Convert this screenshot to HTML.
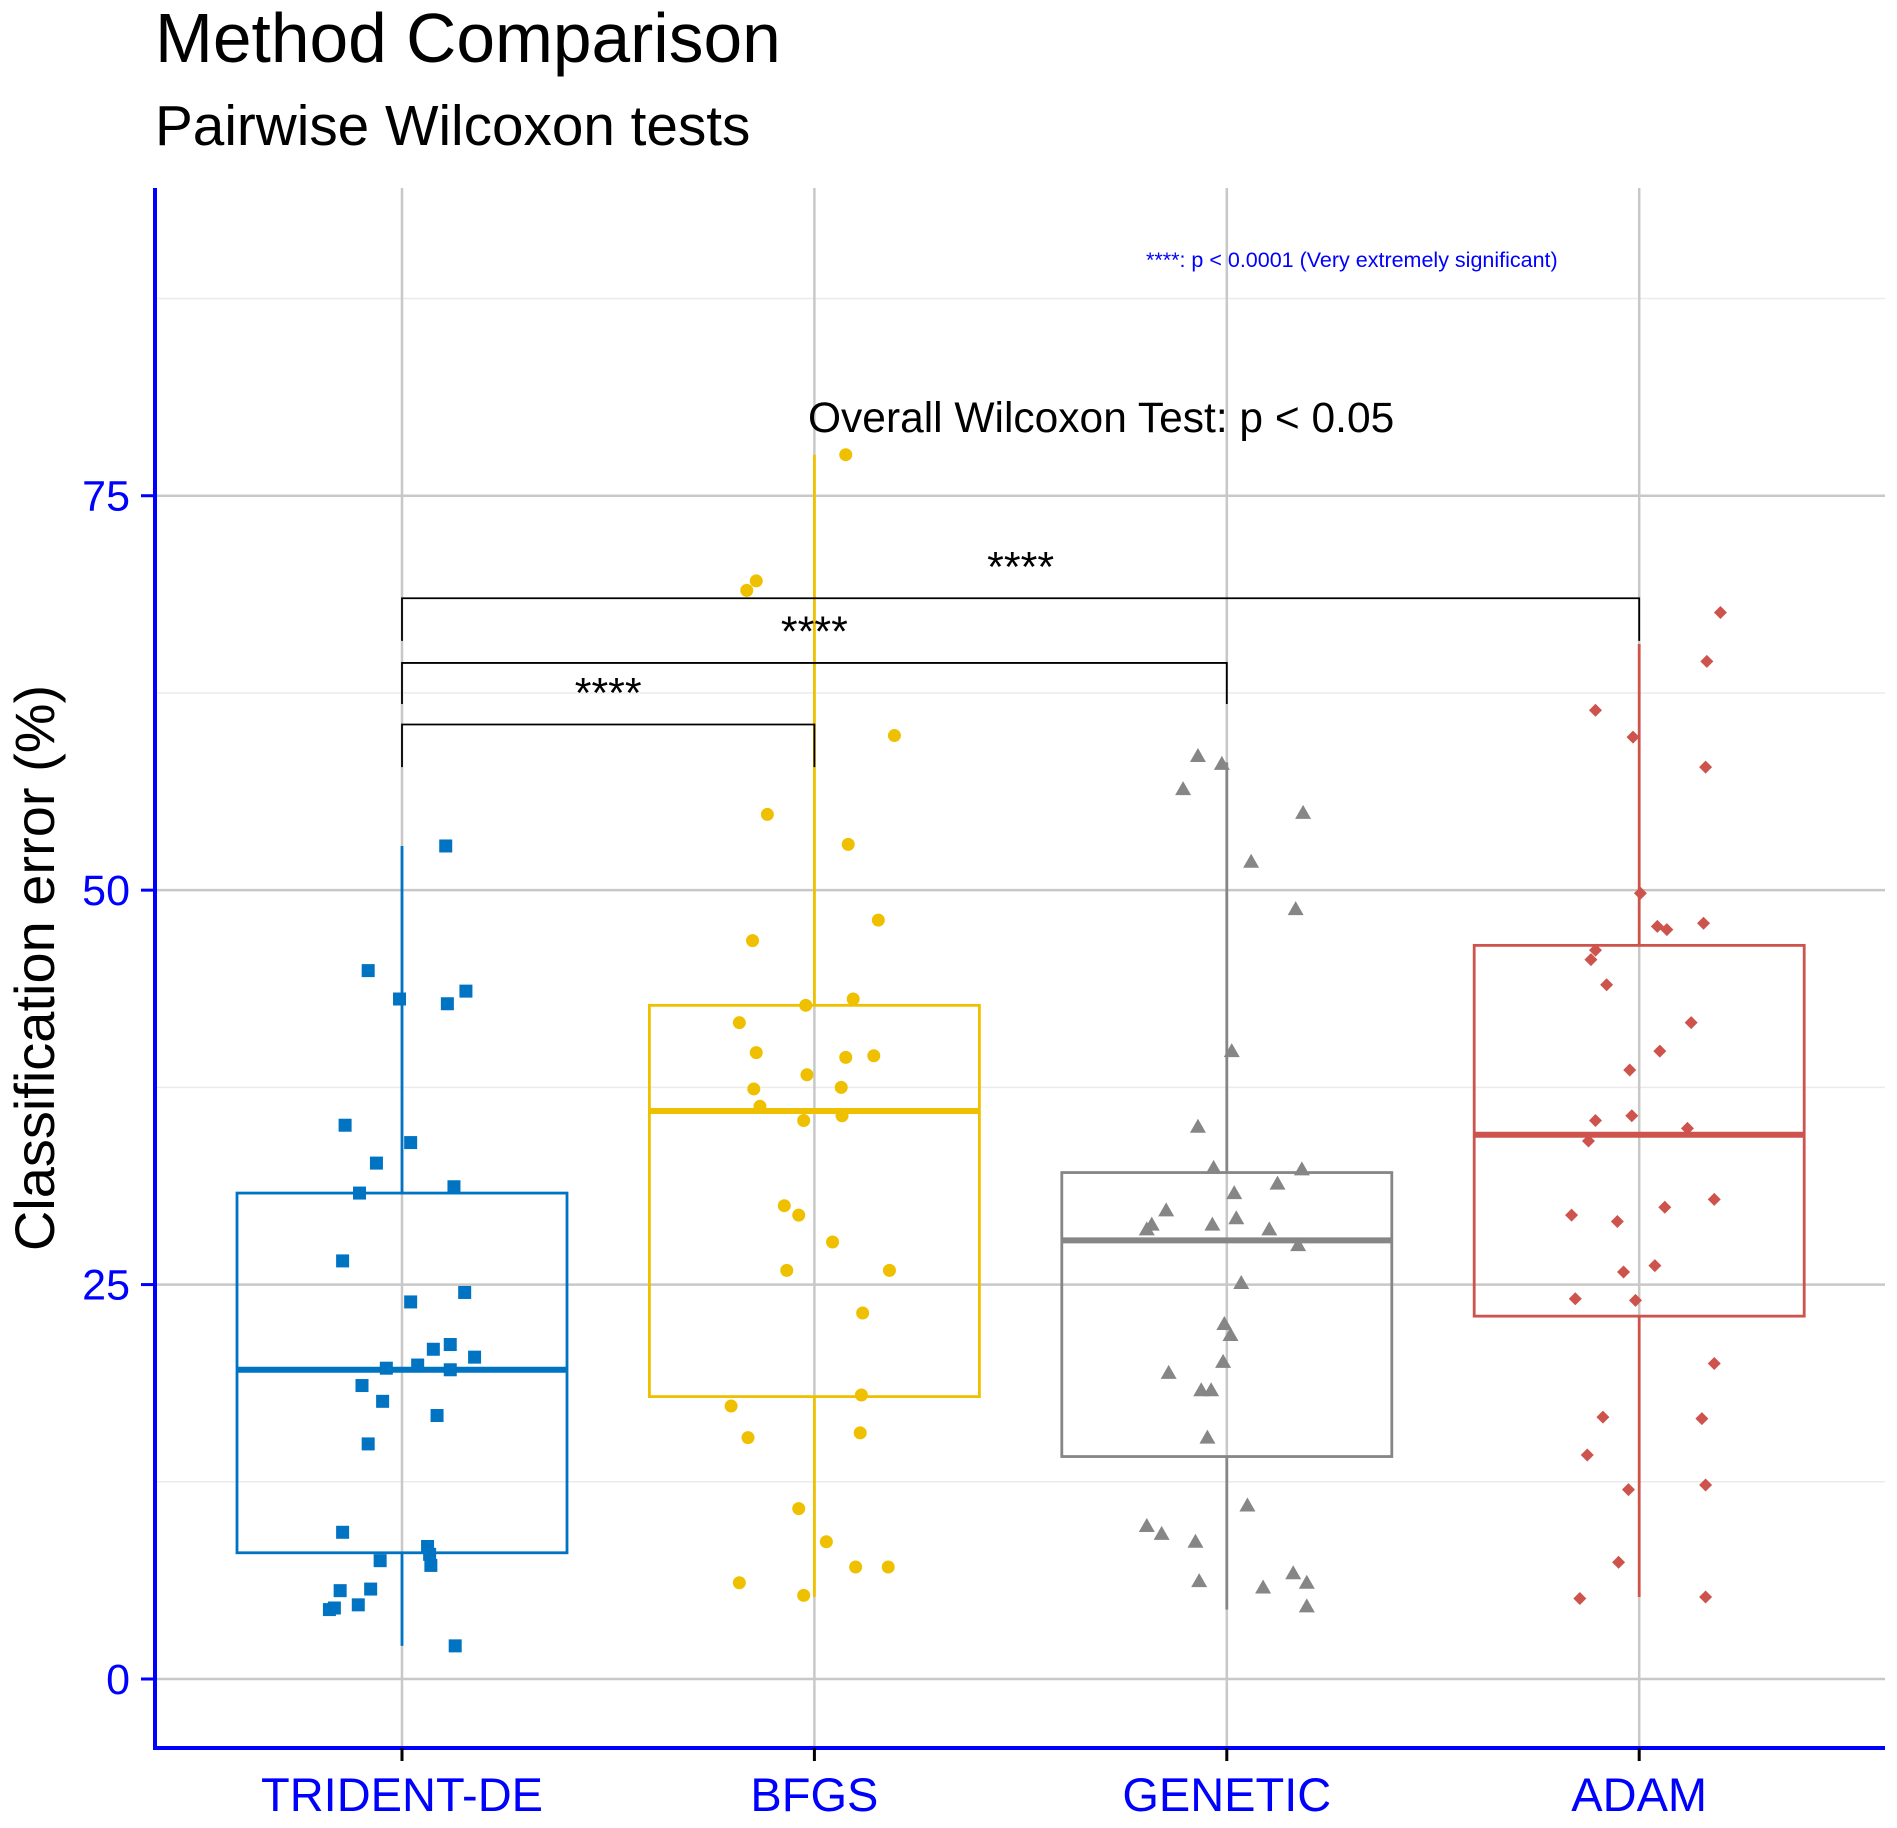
<!DOCTYPE html>
<html><head><meta charset="utf-8"><style>
body{margin:0;background:#fff}
svg{display:block;font-family:"Liberation Sans",Arial,sans-serif}
</style></head><body>
<svg id="chart" width="1897" height="1828" viewBox="0 0 1897 1828" xmlns="http://www.w3.org/2000/svg">
<text x="155" y="62" font-size="69.5" fill="#000">Method Comparison</text>
<text x="155" y="145" font-size="56.7" fill="#000">Pairwise Wilcoxon tests</text>
<g id="grid"></g>
<g id="marks"></g>
<g id="axes"></g>
<text transform="translate(54,968) rotate(-90)" text-anchor="middle" font-size="56" fill="#000">Classification error (%)</text>
<text x="808" y="432" font-size="42.5" fill="#000">Overall Wilcoxon Test: p &lt; 0.05</text>
<text x="1146" y="267" font-size="21.5" fill="#0000ff">****: p &lt; 0.0001 (Very extremely significant)</text>
</svg>
<script>
const categories=["TRIDENT-DE","BFGS","GENETIC","ADAM"];
const colors=["#0073C2","#EFC000","#868686","#CD534C"];
const yTicks=[0,25,50,75];
const yMinor=[12.5,37.5,62.5,87.5];
const q1=[8.0,17.9,14.1,23.0];
const medians=[19.6,36.0,27.8,34.5];
const q3=[30.8,42.7,32.1,46.5];
const whiskLow=[2.1,5.2,4.4,5.2];
const whiskHigh=[52.8,77.6,58.1,65.6];
const valsTrident=[52.8,44.9,43.1,43.6,42.8,35.1,34.0,32.7,30.8,31.2,26.5,23.9,24.5,19.7,19.9,20.9,21.2,20.4,19.6,18.6,17.6,16.7,14.9,9.3,8.4,7.9,7.2,7.5,5.6,5.7,4.7,4.5,4.4,2.1];
const jitTrident=[.106,-.082,-.006,.155,.11,-.138,.021,-.062,-.103,.126,-.144,.021,.152,-.038,.038,.076,.117,.176,.117,-.097,-.047,.085,-.082,-.144,.062,.067,.07,-.053,-.15,-.076,-.106,-.164,-.176,.129];
const valsBfgs=[77.6,69.6,69.0,59.8,54.8,52.9,46.8,48.1,42.7,43.1,41.6,39.7,39.4,39.5,38.3,37.4,37.5,36.3,35.4,35.7,30.0,29.4,27.7,25.9,25.9,23.2,18.0,17.3,15.3,15.6,10.8,8.7,7.1,7.1,6.1,5.3];
const jitBfgs=[.076,-.141,-.164,.194,-.114,.082,-.15,.155,-.021,.094,-.182,-.141,.076,.144,-.018,-.147,.065,-.132,-.026,.067,-.073,-.038,.044,-.067,.182,.117,.114,-.202,-.161,.111,-.038,.029,.1,.179,-.182,-.026];
const valsGenetic=[58.5,56.4,58.0,54.9,51.8,48.8,39.8,35.0,32.4,32.3,31.4,30.8,29.7,28.8,28.5,28.8,29.2,28.5,27.5,25.1,22.5,21.8,20.1,19.4,18.3,18.3,15.3,11.0,9.7,9.2,8.7,6.2,6.7,5.8,6.1,4.6];
const jitGenetic=[-.07,-.106,-.012,.185,.059,.167,.012,-.07,-.032,.182,.123,.018,-.147,-.182,-.194,-.035,.023,.103,.173,.035,-.006,.009,-.009,-.141,-.062,-.038,-.047,.05,-.194,-.158,-.076,-.067,.161,.088,.194,.194];
const valsAdam=[67.6,64.5,61.4,59.7,57.8,49.8,47.7,47.5,47.9,46.2,45.6,44.0,41.6,39.8,38.6,35.4,35.7,34.9,34.1,29.9,29.4,29.0,30.4,26.2,25.8,24.1,24.0,20.0,16.6,16.5,14.2,12.0,12.3,7.4,5.1,5.2];
const jitAdam=[.197,.164,-.106,-.015,.161,.003,.044,.067,.156,-.106,-.117,-.079,.126,.05,-.023,-.106,-.018,.117,-.123,.062,-.164,-.053,.182,.038,-.038,-.155,-.009,.182,-.088,.152,-.126,-.026,.161,-.05,-.144,.161];
const bracketFrom=[0,0,0];
const bracketTo=[1,2,3];
const bracketTop=[60.5,64.4,68.5];
const bracketLeg=[57.8,61.8,65.8];
const bracketLabels=["****","****","****"];

const allVals=[valsTrident,valsBfgs,valsGenetic,valsAdam];
const allJit=[jitTrident,jitBfgs,jitGenetic,jitAdam];
const NS="http://www.w3.org/2000/svg";
const L=155,R=1885,T=188,B=1748;
function X(i,j){return 402+(i+(j||0))*412.4;}
function Y(v){return 1679-v*15.777;}
function mk(tag,attrs,parent){const e=document.createElementNS(NS,tag);for(const k in attrs)e.setAttribute(k,attrs[k]);parent.appendChild(e);return e;}
const grid=document.getElementById('grid'),marks=document.getElementById('marks'),axes=document.getElementById('axes');
yMinor.forEach(v=>{const l=mk('line',{x1:L,x2:R,y1:Y(v),y2:Y(v),stroke:'#ebebeb','stroke-width':1.5},grid);

});
yTicks.forEach(v=>{const l=mk('line',{x1:L,x2:R,y1:Y(v),y2:Y(v),stroke:'#c8c8c8','stroke-width':2.5},grid);

});
categories.forEach((c,i)=>{const l=mk('line',{x1:X(i),x2:X(i),y1:T,y2:B,stroke:'#c8c8c8','stroke-width':2.5},grid);

});
categories.forEach((c,i)=>{
 const col=colors[i],cx=X(i),hw=165;
 const w1=mk('line',{x1:cx,x2:cx,y1:Y(whiskLow[i]),y2:Y(q1[i]),stroke:col,'stroke-width':2.8},marks);
 
 
 const w2=mk('line',{x1:cx,x2:cx,y1:Y(q3[i]),y2:Y(whiskHigh[i]),stroke:col,'stroke-width':2.8},marks);
 
 
 const b=mk('rect',{x:cx-hw,y:Y(q3[i]),width:2*hw,height:Y(q1[i])-Y(q3[i]),fill:'none',stroke:col,'stroke-width':2.8},marks);
 
 
 const m=mk('line',{x1:cx-hw,x2:cx+hw,y1:Y(medians[i]),y2:Y(medians[i]),stroke:col,'stroke-width':6},marks);
 
 
 allVals[i].forEach((v,k)=>{
  const px=X(i,allJit[i][k]),py=Y(v);let p;
  if(i===0)p=mk('rect',{x:px-6.5,y:py-6.5,width:13,height:13,fill:col},marks);
  else if(i===1)p=mk('circle',{cx:px,cy:py,r:6.5,fill:col},marks);
  else if(i===2)p=mk('polygon',{points:`${px},${py-8} ${px-8},${py+6} ${px+8},${py+6}`,fill:col},marks);
  else p=mk('polygon',{points:`${px},${py-6.5} ${px+6.5},${py} ${px},${py+6.5} ${px-6.5},${py}`,fill:col},marks);
  
  
 });
});
bracketFrom.forEach((f,k)=>{
 const x1=X(f),x2=X(bracketTo[k]),yt=Y(bracketTop[k]),yl=Y(bracketLeg[k]);
 const p=mk('polyline',{points:`${x1},${yl} ${x1},${yt} ${x2},${yt} ${x2},${yl}`,fill:'none',stroke:'#000','stroke-width':1.8},marks);
 
 
 const t=mk('text',{x:(x1+x2)/2,y:yt-17,'text-anchor':'middle','font-size':43,fill:'#000'},marks);
 t.textContent=bracketLabels[k];
 
 
});
const ya=mk('line',{x1:L,x2:L,y1:T,y2:B+2,stroke:'#0000ff','stroke-width':4},axes);


const xa=mk('line',{x1:L-2,x2:R,y1:B,y2:B,stroke:'#0000ff','stroke-width':4},axes);


yTicks.forEach(v=>{
 const t=mk('line',{x1:L-14,x2:L,y1:Y(v),y2:Y(v),stroke:'#0000ff','stroke-width':3},axes);
 
 
 const l=mk('text',{x:L-25,y:Y(v)+15,'text-anchor':'end','font-size':43,fill:'#0000ff'},axes);
 l.textContent=v;
 
 
});
categories.forEach((c,i)=>{
 const t=mk('line',{x1:X(i),x2:X(i),y1:B,y2:B+13,stroke:'#000','stroke-width':3},axes);
 
 
 const l=mk('text',{x:X(i),y:1811,'text-anchor':'middle','font-size':47,fill:'#0000ff'},axes);
 l.textContent=c;
 
 
});
</script>
</body></html>
